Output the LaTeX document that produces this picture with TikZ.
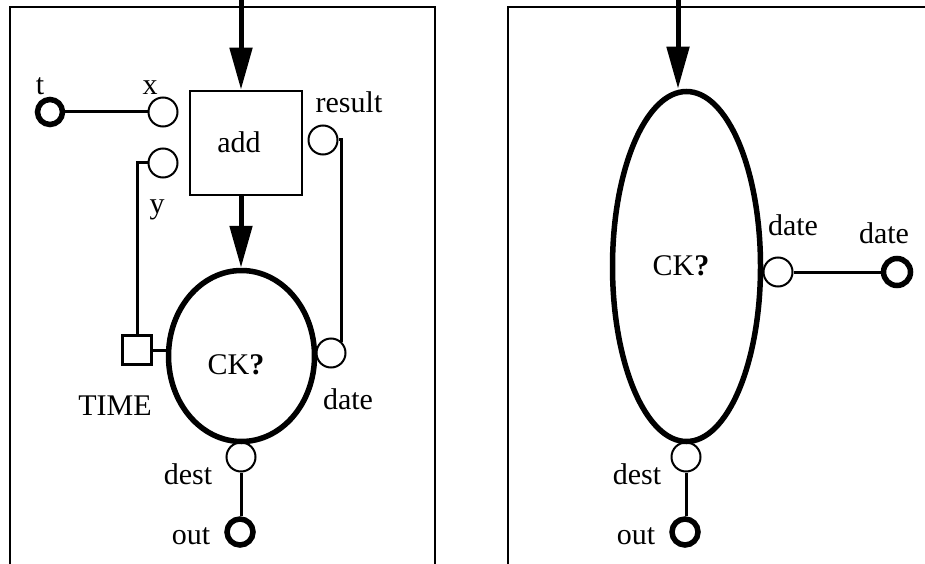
\documentclass[tikz,border=0pt]{standalone}
\usepackage{fontspec}
\setmainfont{Liberation Serif}
\usetikzlibrary{shapes.geometric,arrows.meta}
\begin{document}
\begin{tikzpicture}[x=1pt,y=-1pt,
  every node/.style={font=\fontsize{30}{36}\selectfont},
  frame/.style={line width=2.2pt},
  port/.style={circle,draw,line width=2pt,minimum size=29pt,inner sep=0pt},
  extport/.style={circle,draw,line width=5.5pt,minimum size=25pt,inner sep=0pt},
  wire/.style={line width=3pt},
  flow/.style={line width=5pt,-{Triangle[width=22pt,length=42pt]}},
  opbox/.style={draw,line width=2.6pt,minimum width=112pt,minimum height=104pt,inner sep=0pt},
  clk/.style={ellipse,draw,line width=5.5pt,inner sep=0pt},
  lbl/.style={anchor=base,inner sep=0pt},
  timesq/.style={draw,line width=2.2pt,minimum size=29pt,inner sep=0pt}
]
\useasboundingbox (0,0) rectangle (925,564);
% frames
\draw[frame] (10,564) -- (10,7) -- (435,7) -- (435,564);
\draw[frame] (508,564) -- (508,7) -- (925,7);

% ---------- left panel ----------
\node[opbox] (add) at (246,143) {};
\node[lbl] (addl) at (239,153) {add};
\node[clk,minimum width=146pt,minimum height=171pt] (ck1) at (241.5,356) {};
\node[lbl] (ckl1) at (236,374) {CK\textbf{?}};
\coordinate (in1) at (241,0);
\draw[flow] (in1) -- (in1 |- add.north);
\draw[flow] (add.south -| in1) -- (in1 |- ck1.north);

\node[extport] (t) at (50,112) {};
\node[port] (x) at (163,112) {};
\node[port] (y) at (163,163) {};
\node[port] (res) at (323,140) {};
\node[timesq] (time) at (137,350) {};
\node[port] (date1) at (331,353) {};
\node[port] (dest1) at (241,457) {};
\node[extport,minimum size=26pt] (out1) at (240,532) {};

\draw[wire] (t) -- (x);
\draw[wire] (y.west) -| (time.north);
\draw[wire] (time.east) -- (time.east -| ck1.west);
\draw[wire] (res.east) -| (date1.north east);
\draw[wire] (dest1.south) -- (dest1.south |- out1.north);

\node[lbl] (tl) at (40,95) {t};
\node[lbl] (xl) at (150,95) {x};
\node[lbl] (rl) at (349,113) {result};
\node[lbl] (yl) at (157,213) {y};
\node[lbl] (timel) at (115,415) {TIME};
\node[lbl] (datel1) at (348,409) {date};
\node[lbl] (destl1) at (188,484) {dest};
\node[lbl] (outl1) at (191,544) {out};

% ---------- right panel ----------
\node[clk,minimum width=148pt,minimum height=350pt] (ck2) at (686.5,266.5) {};
\node[lbl] (ckl2) at (681,275) {CK\textbf{?}};
\coordinate (in2) at (678,0);
\draw[flow] (in2) -- (in2 |- ck2.north);
\node[port] (date2) at (778,272) {};
\node[extport,minimum size=27pt] (dateo) at (897,272) {};
\draw[wire] (date2) -- (dateo);
\node[port] (dest2) at (686,457) {};
\node[extport,minimum size=26pt] (out2) at (685,532) {};
\draw[wire] (dest2.south) -- (dest2.south |- out2.north);

\node[lbl] (datel2) at (793,235) {date};
\node[lbl] (datel3) at (884,243) {date};
\node[lbl] (destl2) at (637,484) {dest};
\node[lbl] (outl2) at (636,544) {out};
\end{tikzpicture}
\end{document}
